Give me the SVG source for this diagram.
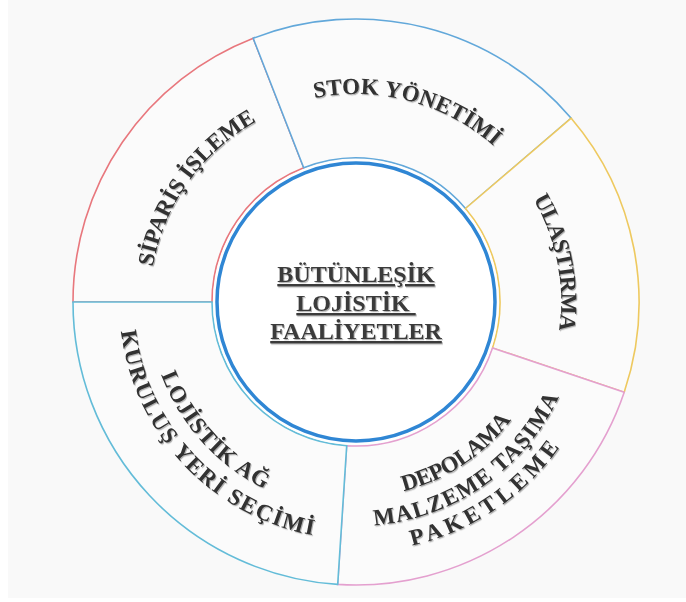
<svg xmlns="http://www.w3.org/2000/svg" xmlns:xlink="http://www.w3.org/1999/xlink" width="686" height="602" viewBox="0 0 686 602">
<style>
.seg{fill:#fbfbfb;stroke-width:1.6}
.t{font-family:"Liberation Serif","Times New Roman",serif;font-weight:bold;font-size:23px;fill:#303030;filter:url(#sh)}
.c{font-family:"Liberation Serif","Times New Roman",serif;font-weight:bold;font-size:24px;fill:#3a3a3a;text-anchor:middle;text-decoration:underline;filter:url(#sh)}
</style>
<defs>
<filter id="sh" x="-10%" y="-10%" width="130%" height="140%">
<feDropShadow dx="1" dy="1.2" stdDeviation="0.6" flood-color="#000" flood-opacity="0.3"/>
</filter>
<path id="pSip" d="M168.5,387.4 A206,206 0 0 1 375.7,96.9"/>
<path id="pStok" d="M208.9,154.9 A208,208 0 0 1 556.9,248.2"/>
<path id="pUla" d="M422.1,107.9 A205,205 0 0 1 491.1,456.2"/>
<path id="pDepo" d="M268.7,476.4 A195,195 0 0 0 550.6,290.4"/>
<path id="pMalz" d="M261.3,505 A224,224 0 0 0 579.1,282.5"/>
<path id="pPak" d="M247.4,527.2 A250,250 0 0 0 605.3,283.5"/>
<path id="pLoj" d="M157.8,238.8 A208,208 0 0 0 400.3,505.2"/>
<path id="pKur" d="M128.8,234.7 A237,237 0 0 0 411.3,532.5"/>
</defs>
<rect width="686" height="602" fill="#ffffff"/>
<rect x="8" y="0" width="678" height="598" fill="#f9f9f9"/>

<g id="siparis">
<path class="seg" stroke="#e8777d" d="M212,302 L73,302 A283,283 0 0 1 253.2,38.3 L303.7,167.8 A144,144 0 0 0 212,302 Z"/>
<text class="t" letter-spacing="0"><textPath xlink:href="#pSip" href="#pSip" startOffset="50%" text-anchor="middle">SİPARİŞ İŞLEME</textPath></text>
</g>
<g id="stok">
<path class="seg" stroke="#62a8da" d="M303.7,167.8 L253.2,38.3 A283,283 0 0 1 571.2,118.2 L465.5,208.5 A144,144 0 0 0 303.7,167.8 Z"/>
<text class="t" letter-spacing="0.2"><textPath xlink:href="#pStok" href="#pStok" startOffset="50%" text-anchor="middle">STOK YÖNETİMİ</textPath></text>
</g>
<g id="ulastirma">
<path class="seg" stroke="#eec95f" d="M465.5,208.5 L571.2,118.2 A283,283 0 0 1 624.2,392.3 L492.5,347.9 A144,144 0 0 0 465.5,208.5 Z"/>
<text class="t" letter-spacing="-0.5"><textPath xlink:href="#pUla" href="#pUla" startOffset="50%" text-anchor="middle">ULAŞTIRMA</textPath></text>
</g>
<g id="depolama">
<path class="seg" stroke="#e4a0cf" d="M492.5,347.9 L624.2,392.3 A283,283 0 0 1 337.7,584.4 L346.7,445.7 A144,144 0 0 0 492.5,347.9 Z"/>
<text class="t" letter-spacing="-0.4"><textPath xlink:href="#pDepo" href="#pDepo" startOffset="50%" text-anchor="middle">DEPOLAMA</textPath></text>
<text class="t" letter-spacing="1.4"><textPath xlink:href="#pMalz" href="#pMalz" startOffset="50%" text-anchor="middle">MALZEME TAŞIMA</textPath></text>
<text class="t" letter-spacing="4.5"><textPath xlink:href="#pPak" href="#pPak" startOffset="50%" text-anchor="middle">PAKETLEME</textPath></text>
</g>
<g id="lojistik-ag">
<path class="seg" stroke="#63bcd8" d="M346.7,445.7 L337.7,584.4 A283,283 0 0 1 73,302 L212,302 A144,144 0 0 0 346.7,445.7 Z"/>
<text class="t" letter-spacing="1"><textPath xlink:href="#pLoj" href="#pLoj" startOffset="50%" text-anchor="middle">LOJİSTİK AĞ</textPath></text>
<text class="t" letter-spacing="1.9"><textPath xlink:href="#pKur" href="#pKur" startOffset="50%" text-anchor="middle">KURULUŞ YERİ SEÇİMİ</textPath></text>
</g>
<g id="merkez">
<circle cx="356" cy="302" r="143" fill="#ffffff"/>
<circle cx="356" cy="302" r="139" fill="#ffffff" stroke="#2f86d4" stroke-width="3.5"/>
<text class="c" x="356" y="282">BÜTÜNLEŞİK</text>
<text class="c" x="356" y="311">LOJİSTİK&#160;</text>
<text class="c" x="356" y="339">FAALİYETLER</text>
</g>
</svg>
